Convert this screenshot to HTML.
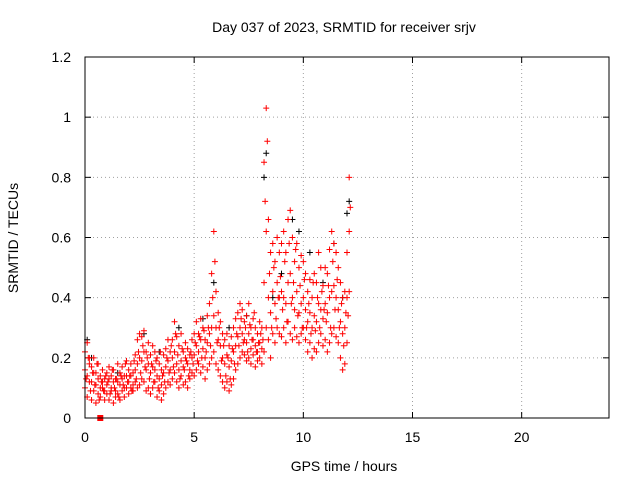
<!DOCTYPE html>
<html><head><meta charset="utf-8"><style>
body{margin:0;background:#fff;}
svg{display:block;font-family:"Liberation Sans",sans-serif;}
</style></head><body>
<svg id="chart" width="640" height="480">
<text x="344" y="32" text-anchor="middle" font-size="14">Day 037 of 2023, SRMTID for receiver srjv</text>
<text x="344" y="471" text-anchor="middle" font-size="14">GPS time / hours</text>
<text transform="translate(18,238) rotate(-90)" text-anchor="middle" font-size="14">SRMTID / TECUs</text>
<g id="grid"></g><g id="ticks"></g><g id="marks"></g>
<rect x="85" y="57" width="524" height="361" fill="none" stroke="#000" stroke-width="1"/>
</svg>
<script>
const xTicks=[0,5,10,15,20];
const yTicks=[0,0.2,0.4,0.6,0.8,1,1.2];
const yTickLabels=["0","0.2","0.4","0.6","0.8","1","1.2"];
const times=[0.0,0.1,0.2,0.3,0.4,0.5,0.6,0.7,0.8,0.9,1.0,1.1,1.2,1.3,1.4,1.5,1.6,1.7,1.8,1.9,2.0,2.1,2.2,2.3,2.4,2.5,2.6,2.7,2.8,2.9,3.0,3.1,3.2,3.3,3.4,3.5,3.6,3.7,3.8,3.9,4.0,4.1,4.2,4.3,4.4,4.5,4.6,4.7,4.8,4.9,5.0,5.1,5.2,5.3,5.4,5.5,5.6,5.7,5.8,5.9,6.0,6.1,6.2,6.3,6.4,6.5,6.6,6.7,6.8,6.9,7.0,7.1,7.2,7.3,7.4,7.5,7.6,7.7,7.8,7.9,8.0,8.1,8.2,8.3,8.4,8.5,8.6,8.7,8.8,8.9,9.0,9.1,9.2,9.3,9.4,9.5,9.6,9.7,9.8,9.9,10.0,10.1,10.2,10.3,10.4,10.5,10.6,10.7,10.8,10.9,11.0,11.1,11.2,11.3,11.4,11.5,11.6,11.7,11.8,11.9,12.0,12.1];
const redLow=[.10,.07,.12,.06,.09,.05,.08,.07,.10,.06,.08,.06,.09,.05,.07,.08,.06,.09,.07,.10,.08,.10,.09,.12,.10,.11,.13,.12,.09,.10,.08,.10,.12,.07,.09,.06,.08,.10,.12,.11,.13,.15,.12,.10,.14,.11,.12,.10,.13,.15,.14,.16,.18,.15,.17,.13,.16,.18,.20,.22,.18,.16,.14,.12,.10,.12,.09,.11,.13,.16,.18,.20,.22,.21,.19,.20,.18,.21,.17,.19,.20,.18,.22,.30,.26,.20,.28,.25,.30,.28,.27,.30,.25,.32,.28,.26,.30,.27,.25,.28,.30,.26,.22,.25,.20,.23,.22,.25,.28,.24,.26,.22,.25,.28,.30,.27,.25,.20,.16,.18,.25,.42];
const redMid=[.16,.14,.18,.12,.15,.11,.13,.10,.12,.09,.11,.13,.10,.12,.09,.12,.11,.13,.10,.14,.12,.14,.11,.16,.18,.20,.19,.22,.16,.18,.15,.17,.16,.14,.13,.11,.15,.17,.19,.16,.20,.22,.18,.16,.19,.17,.20,.18,.16,.20,.21,.24,.22,.26,.23,.20,.25,.28,.30,.34,.30,.26,.24,.20,.18,.21,.17,.19,.22,.24,.27,.30,.28,.26,.25,.28,.23,.26,.24,.22,.25,.23,.45,.62,.40,.35,.42,.38,.45,.40,.42,.40,.38,.45,.48,.40,.36,.42,.35,.38,.40,.36,.32,.35,.30,.34,.32,.38,.36,.33,.38,.35,.40,.42,.44,.40,.36,.32,.28,.30,.40,.62];
const redHigh=[.22,.25,.20,.17,.20,.15,.18,.14,.16,.13,.15,.17,.14,.16,.13,.18,.15,.17,.14,.19,.16,.18,.15,.21,.26,.28,.27,.29,.22,.25,.21,.24,.22,.20,.18,.16,.21,.23,.26,.22,.26,.32,.27,.24,.28,.22,.25,.23,.21,.26,.28,.32,.28,.33,.30,.26,.34,.38,.48,.62,.42,.35,.32,.28,.26,.28,.24,.27,.30,.33,.35,.38,.36,.32,.34,.38,.30,.33,.30,.28,.32,.30,.85,1.03,.66,.55,.58,.52,.60,.55,.58,.62,.55,.66,.69,.60,.52,.58,.50,.54,.52,.48,.42,.46,.40,.48,.45,.55,.50,.44,.50,.48,.56,.62,.58,.55,.50,.45,.40,.42,.55,.80];
const redExtra=[.13,.20,.09,.15,.11,.18,.06,.12,.09,.14,.12,.08,.16,.10,.13,.07,.14,.11,.18,.12,.14,.09,.19,.13,.22,.15,.24,.17,.20,.13,.18,.12,.19,.10,.22,.14,.12,.20,.15,.24,.17,.28,.21,.13,.23,.16,.19,.14,.22,.18,.25,.19,.27,.20,.29,.22,.30,.24,.40,.52,.25,.30,.19,.24,.14,.20,.13,.23,.18,.28,.24,.33,.25,.30,.22,.31,.26,.35,.22,.25,.28,.26,.72,.92,.48,.30,.50,.33,.40,.47,.36,.52,.32,.58,.38,.45,.56,.34,.44,.30,.46,.30,.38,.28,.45,.29,.40,.30,.42,.36,.32,.44,.30,.52,.36,.46,.30,.38,.24,.35,.34,.70];
const blackTimes=[0.1,0.3,1.5,2.7,3.4,4.3,5.4,5.9,6.6,7.4,8.2,8.3,8.6,9.0,9.5,9.8,10.3,10.9,11.4,11.8,12.1,12.0];
const blackValues=[.26,.20,.15,.28,.22,.30,.33,.45,.30,.34,.80,.88,.40,.48,.66,.62,.55,.45,.58,.40,.72,.68];
const X=v=>85+v*524/24, Y=v=>418-v*361/1.2;
const NS="http://www.w3.org/2000/svg";
const grid=document.getElementById('grid'),ticks=document.getElementById('ticks'),marks=document.getElementById('marks');
function mk(tag,attrs,parent){const e=document.createElementNS(NS,tag);for(const k in attrs)e.setAttribute(k,attrs[k]);parent.appendChild(e);return e;}
xTicks.forEach(t=>{const x=X(t);
 if(t>0){const g=mk('line',{x1:x,x2:x,y1:57,y2:418,stroke:'#a0a0a0','stroke-dasharray':'1,3'},grid);
 
 }
 mk('line',{x1:x,x2:x,y1:418,y2:412,stroke:'#000'},ticks);mk('line',{x1:x,x2:x,y1:57,y2:63,stroke:'#000'},ticks);
 const l=mk('text',{x:x,y:442,'text-anchor':'middle','font-size':14},ticks);l.textContent=t;
 
 });
yTicks.forEach((t,i)=>{const y=Y(t);
 if(t>0&&t<1.2){const g=mk('line',{x1:85,x2:609,y1:y,y2:y,stroke:'#a0a0a0','stroke-dasharray':'1,3'},grid);
 
 }
 mk('line',{x1:85,x2:91,y1:y,y2:y,stroke:'#000'},ticks);mk('line',{x1:609,x2:603,y1:y,y2:y,stroke:'#000'},ticks);
 const l=mk('text',{x:71,y:y+5,'text-anchor':'end','font-size':14},ticks);l.textContent=yTickLabels[i];
 
 });
function plus(t,v,c,name){const x=X(t),y=Y(v);
 const p=mk('path',{d:`M${x-3},${y}h6M${x},${y-3}v6`,stroke:c,'stroke-width':1,fill:'none'},marks);
 
 }
blackTimes.forEach((t,i)=>plus(t,blackValues[i],'#000','black-point'));
[redLow,redMid,redHigh].forEach(arr=>times.forEach((t,i)=>plus(t,arr[i],'#f00','red-point')));
times.forEach((t,i)=>plus(t+0.05,redExtra[i],'#f00','red-point'));
const sq=mk('rect',{x:X(0.7)-3,y:Y(0)-3,width:6,height:6,fill:'#f00'},marks);


</script>
</body></html>
